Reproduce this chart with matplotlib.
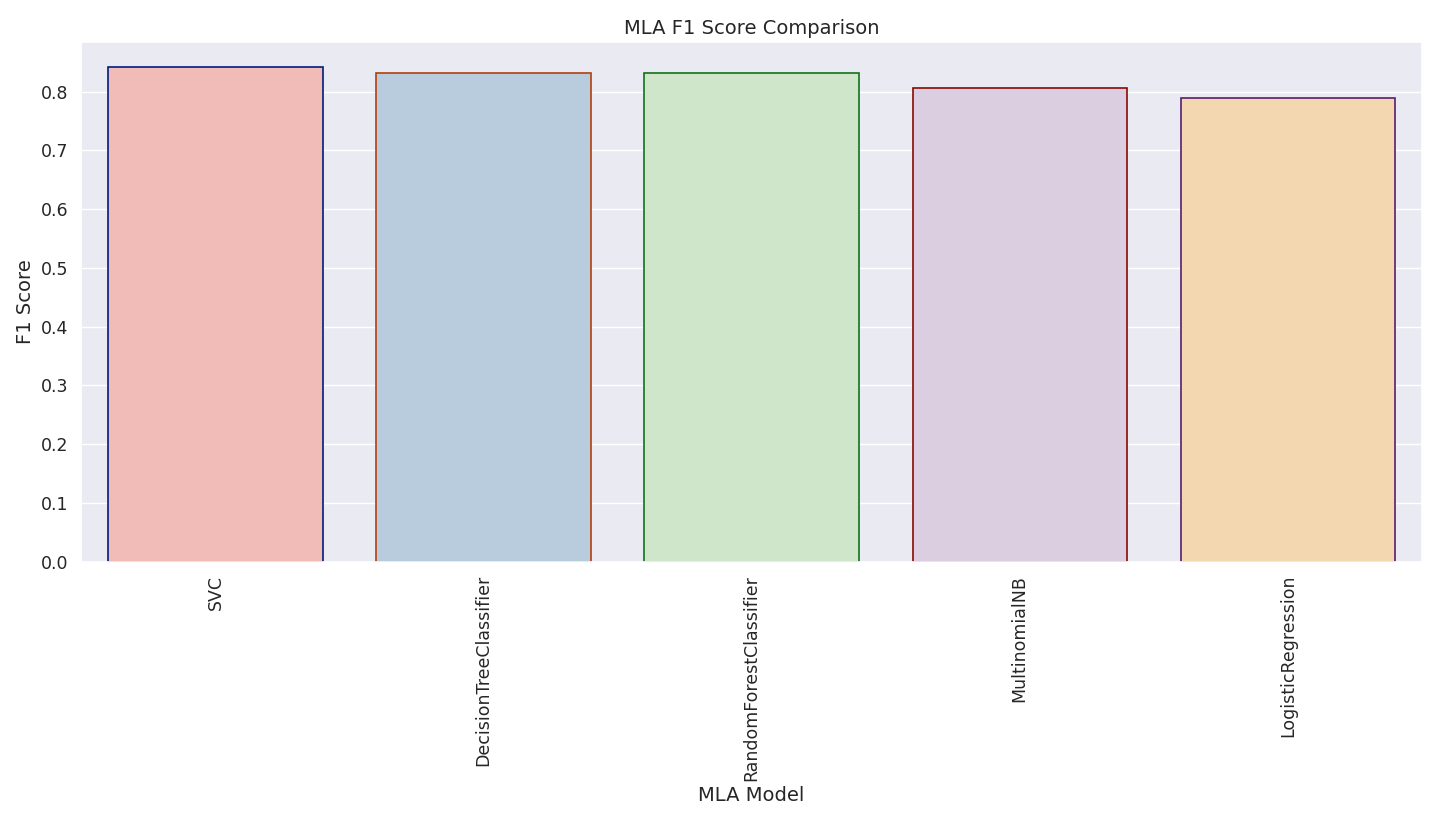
import matplotlib
matplotlib.use("Agg")
import matplotlib.pyplot as plt
import seaborn as sns
import pandas as pd

models = ["SVC", "DecisionTreeClassifier", "RandomForestClassifier",
          "MultinomialNB", "LogisticRegression"]
f1_scores = [0.842, 0.831, 0.831, 0.806, 0.790]

sns.set_theme(style="darkgrid", rc={"xtick.labelsize": 12.5, "ytick.labelsize": 12.5,
                                    "axes.labelsize": 14, "axes.titlesize": 14})

df = pd.DataFrame({"MLA Model": models, "F1 Score": f1_scores})
edges = sns.color_palette("dark", 5)

fig, ax = plt.subplots(figsize=(14.29, 8.13), dpi=100)
sns.barplot(data=df, x="MLA Model", y="F1 Score", hue="MLA Model",
            palette="Pastel1", legend=False, ax=ax)
for bar, ec in zip(ax.patches, edges):
    bar.set_edgecolor(ec)
    bar.set_linewidth(1.2)

ax.set_title("MLA F1 Score Comparison")
plt.xticks(rotation=90)
plt.subplots_adjust(left=0.057, right=0.995, top=0.948, bottom=0.309)
plt.savefig("out.png")
